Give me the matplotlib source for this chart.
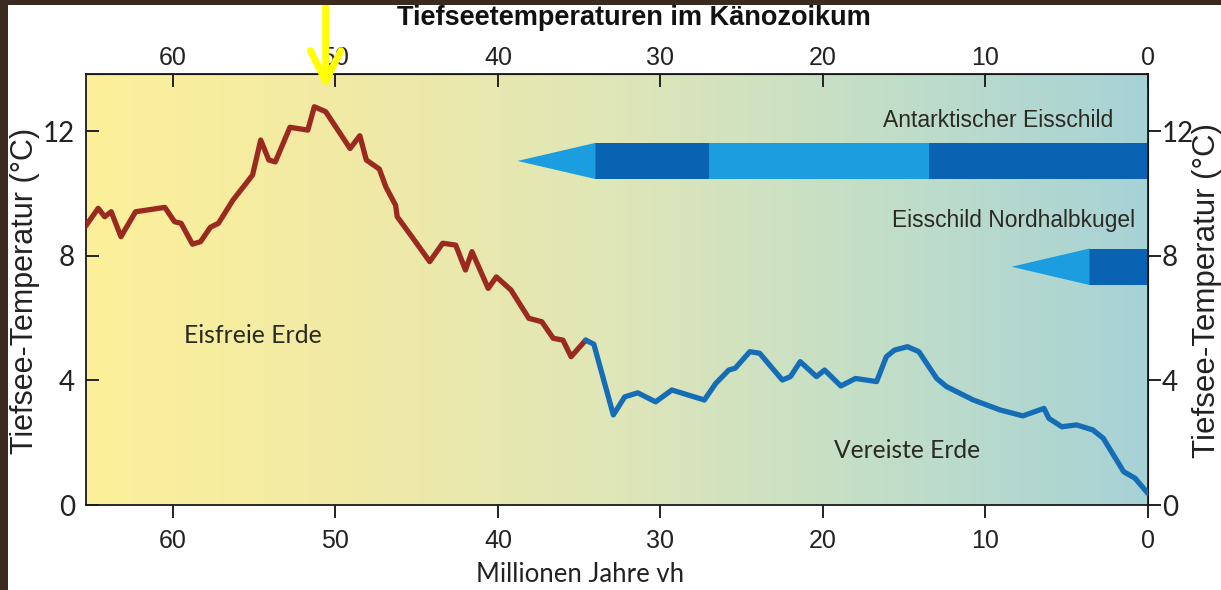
import numpy as np
import matplotlib

matplotlib.use("Agg")
import matplotlib.pyplot as plt
from matplotlib import font_manager
from matplotlib.colors import LinearSegmentedColormap
from matplotlib.patches import Polygon, Rectangle

# --- data ---
# warm, ice-free phase (Ma before present, deep-sea temperature in deg C)
warm_age = [65.4, 64.6, 64.2, 63.8, 63.2, 62.3, 60.5, 59.9, 59.5, 58.8, 58.3, 57.7,
            57.2, 56.3, 55.5, 55.1, 54.6, 54.1, 53.7, 52.8, 51.7, 51.3, 50.6, 49.1,
            48.5, 48.1, 47.3, 46.9, 46.3, 46.2, 45.3, 44.2, 43.4, 42.6, 42.0, 41.6,
            40.6, 40.1, 39.2, 38.1, 37.3, 36.6, 36.0, 35.5, 34.6]
warm_temp = [8.93, 9.52, 9.25, 9.41, 8.61, 9.41, 9.55, 9.09, 9.04, 8.37, 8.45, 8.91,
             9.04, 9.79, 10.32, 10.59, 11.71, 11.07, 11.01, 12.12, 12.03, 12.78, 12.62, 11.44,
             11.85, 11.07, 10.78, 10.21, 9.62, 9.25, 8.61, 7.81, 8.40, 8.34, 7.54, 8.13,
             6.95, 7.32, 6.90, 5.99, 5.88, 5.35, 5.29, 4.76, 5.29]
# glaciated phase
ice_age = [34.6, 34.1, 32.9, 32.2, 31.4, 30.3, 29.3, 28.3, 27.3, 26.6, 25.8, 25.4,
           24.5, 23.9, 22.5, 22.0, 21.4, 20.4, 19.9, 18.9, 18.0, 16.7, 16.1, 15.6,
           14.8, 14.1, 13.0, 12.4, 10.75, 9.1, 7.7, 6.4, 6.1, 5.3, 4.4, 3.4,
           2.75, 1.5, 0.8, 0.0]
ice_temp = [5.29, 5.16, 2.89, 3.47, 3.60, 3.31, 3.69, 3.53, 3.37, 3.90, 4.33, 4.39,
            4.92, 4.87, 4.01, 4.12, 4.60, 4.12, 4.33, 3.82, 4.06, 3.96, 4.76, 4.97,
            5.08, 4.92, 4.06, 3.80, 3.37, 3.05, 2.86, 3.10, 2.78, 2.51, 2.57, 2.41,
            2.14, 1.07, 0.86, 0.37]

# ice sheet bars: (start Ma, end Ma, full?)
ant_segments = [(34.0, 27.0, True), (27.0, 13.5, False), (13.5, 0.0, True)]
ant_tip = (38.8, 34.0)
ant_band = (10.46, 11.62)
nh_segments = [(3.6, 0.0, True)]
nh_tip = (8.4, 3.6)
nh_band = (7.06, 8.23)

ticks_x = [60, 50, 40, 30, 20, 10, 0]
ticks_y = [0, 4, 8, 12]
peak_age = 50.6

RED = "#9a2a1f"
BLUE = "#156db6"
DARK_ICE = "#0a63b2"
LIGHT_ICE = "#1c9de0"
TXT = "#2a2a22"

installed = {f.name for f in font_manager.fontManager.ttflist}
narrow = "Liberation Sans Narrow" if "Liberation Sans Narrow" in installed else "Liberation Sans"
humanist = "Lato"

fig = plt.figure(figsize=(12.21, 5.90), dpi=100)
fig.patch.set_facecolor("white")
ax = fig.add_axes([86 / 1221, 1 - 505 / 590, 1062 / 1221, 431 / 590])
ax.set_xlim(65.35, 0)
ax.set_ylim(0, 13.83)

# background gradient yellow -> teal
cmap = LinearSegmentedColormap.from_list(
    "bg", ["#fcf09a", "#f1eaa6", "#dfe6b8", "#c2dec8", "#a7d2d6"])
grad = np.linspace(0, 1, 512)[None, :]
ax.imshow(grad, cmap=cmap, aspect="auto", extent=(65.35, 0, 0, 13.83),
          zorder=0, interpolation="bilinear")

ax.plot(warm_age, warm_temp, color=RED, lw=3.8, solid_joinstyle="round",
        solid_capstyle="round", zorder=3)
ax.plot(ice_age, ice_temp, color=BLUE, lw=3.8, solid_joinstyle="round",
        solid_capstyle="round", zorder=3)


def ice_bar(segments, tip, band):
    lo, hi = band
    for a0, a1, full in segments:
        ax.add_patch(Rectangle((a1, lo), a0 - a1, hi - lo, lw=0,
                               color=DARK_ICE if full else LIGHT_ICE, zorder=2))
    ax.add_patch(Polygon([(tip[0], (lo + hi) / 2), (tip[1], hi), (tip[1], lo)],
                         closed=True, lw=0, color=LIGHT_ICE, zorder=2))


ice_bar(ant_segments, ant_tip, ant_band)
ice_bar(nh_segments, nh_tip, nh_band)

ax.text(2.15, 12.35, "Antarktischer Eisschild", family=narrow, fontsize=16.5,
        color=TXT, ha="right", va="center", zorder=4)
ax.text(0.8, 9.14, "Eisschild Nordhalbkugel", family=narrow, fontsize=16.4,
        color=TXT, ha="right", va="center", zorder=4)
ax.text(59.3, 5.45, "Eisfreie Erde", family=humanist, fontsize=17.8,
        color=TXT, ha="left", va="center", zorder=4)
ax.text(19.3, 1.76, "Vereiste Erde", family=humanist, fontsize=17.7,
        color=TXT, ha="left", va="center", zorder=4)

# axes styling
for s in ax.spines.values():
    s.set_linewidth(1.3)
    s.set_color("#1a1a1a")
ax.set_xticks(ticks_x)
ax.set_yticks(ticks_y)
ax.tick_params(axis="x", direction="out", length=9, width=1.4, pad=8,
               labelsize=18, colors="#222222")
ax.tick_params(axis="y", direction="in", length=9, width=1.4, pad=8,
               labelsize=20, colors="#222222")
for lab in ax.get_xticklabels():
    lab.set_family(narrow)
for lab in ax.get_yticklabels():
    lab.set_family(humanist)

top = ax.secondary_xaxis("top")
top.set_xticks(ticks_x)
top.tick_params(direction="in", length=9, width=1.4, pad=3, labelsize=18,
                colors="#222222")
for lab in top.get_xticklabels():
    lab.set_family(narrow)

right = ax.secondary_yaxis("right")
right.set_yticks(ticks_y)
right.tick_params(direction="out", length=9, width=1.4, pad=1, labelsize=20,
                  colors="#222222")
for lab in right.get_yticklabels():
    lab.set_family(humanist)

# y labels on both sides
fig.text(25 / 1221, 1 - 291 / 590, "Tiefsee-Temperatur (°C)", family="Liberation Sans",
         fontsize=22, color="#222222", rotation=90, ha="center", va="center")
fig.text(1207 / 1221, 1 - 290 / 590, "Tiefsee-Temperatur (°C)", family="Liberation Sans",
         fontsize=22.5, color="#222222", rotation=90, ha="center", va="center")

fig.text(580 / 1221, 1 - 574 / 590, "Millionen Jahre vh", family=humanist,
         fontsize=18.5, color="#222222", ha="center", va="center")
fig.text(634 / 1221, 1 - 18 / 590, "Tiefseetemperaturen im Känozoikum",
         family="Liberation Sans", fontweight="bold", fontsize=19.5,
         color="#111111", ha="center", va="center")

# yellow pointer at the Eocene optimum
ax.annotate("", xy=(peak_age, 13.35), xycoords="data",
            xytext=(peak_age, 1.0), textcoords=("data", "figure fraction"),
            arrowprops=dict(arrowstyle="->, head_length=1.1, head_width=0.55",
                            color="#ffff00", lw=5, shrinkA=0, shrinkB=0,
                            mutation_scale=20),
            annotation_clip=False, zorder=6)

# dark wooden frame on top and left
fig.add_artist(Rectangle((0, 1 - 5 / 590), 1, 5 / 590, transform=fig.transFigure,
                         color="#3a2a1f", lw=0, zorder=10))
fig.add_artist(Rectangle((0, 0), 8 / 1221, 1, transform=fig.transFigure,
                         color="#3a2a1f", lw=0, zorder=10))

fig.savefig("out.png", dpi=100)
